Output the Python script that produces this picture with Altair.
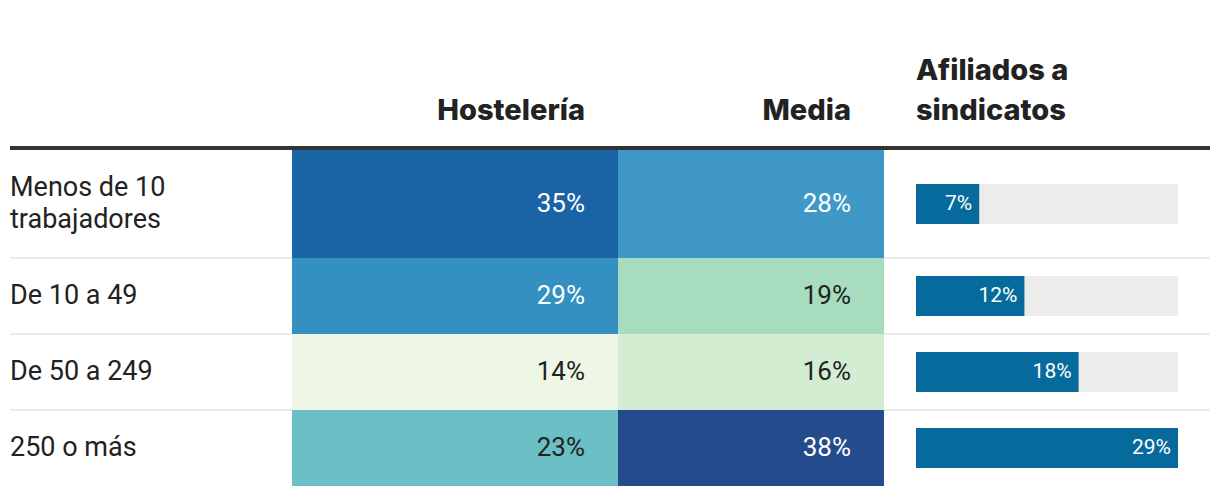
import altair as alt
import pandas as pd

# ---- data ----
categories = ["Menos de 10\ntrabajadores", "De 10 a 49", "De 50 a 249", "250 o más"]
hosteleria = [35, 29, 14, 23]
media = [28, 19, 16, 38]
afiliados = [7, 12, 18, 29]
col_titles = ["Hostelería", "Media", "Afiliados a\nsindicatos"]

# ---- layout / style ----
TOTAL_H = 478
TABLE_TOP = 142
ROW_BASE = 76
LINE_H = 32
W_LABEL, W_HOST, W_MEDIA, W_BAR = 284, 326, 266, 326
BAR_X0, BAR_X1 = 32, 294
BAR_H = 40
TEXT_FONT = "Roboto"
HEAD_FONT = "Inter"
DARK = "#222222"

rows = []
top = TABLE_TOP
for i, cat in enumerate(categories):
    n = cat.count("\n") + 1
    h = ROW_BASE + LINE_H * (n - 1)
    yc = top + h / 2
    rows.append(dict(cat=cat, order=i, y0=top, y1=top + h, yc=yc,
                     ty=yc - (n - 1) * LINE_H / 2,
                     host=hosteleria[i], media=media[i], afil=afiliados[i],
                     z=0, amax=max(afiliados)))
    top += h
df = pd.DataFrame(rows)
df["b0"] = df["yc"] - BAR_H / 2
df["b1"] = df["yc"] + BAR_H / 2
seps = pd.DataFrame({"y": df["y1"].iloc[:-1].tolist()})
one = pd.DataFrame({"k": [0]})

Y = alt.Scale(domain=[0, TOTAL_H], reverse=True, nice=False, zero=False)
heat_vals = sorted(set(hosteleria + media))  # 14,16,19,23,28,29,35,38
COLOR = alt.Scale(domain=heat_vals,
                  range=["#eef7e6", "#d3edd3", "#a8dcbf", "#6cbfc4",
                         "#3f98c5", "#3490c0", "#1a63a5", "#254b8c"])
XB = alt.Scale(domain=[0, max(afiliados)], range=[BAR_X0, BAR_X1], nice=False, zero=False)


def heavy_rule(x0, width):
    return alt.Chart(one).mark_rule(color="#333333", strokeWidth=4).encode(
        x=alt.value(x0), x2=alt.value(width), y=alt.value(TABLE_TOP - 2))


def sep_rules(x0, width):
    return alt.Chart(seps).mark_rule(color="#ebebeb", strokeWidth=2).encode(
        x=alt.value(x0), x2=alt.value(width), y=alt.Y("y:Q", scale=Y, axis=None))


# ---- label panel ----
labels = alt.Chart(df).mark_text(
    align="left", baseline="middle", font=TEXT_FONT, fontSize=27,
    lineBreak="\n", lineHeight=LINE_H, color=DARK
).encode(x=alt.value(2), y=alt.Y("ty:Q", scale=Y, axis=None), text="cat:N")
panel_labels = alt.layer(sep_rules(2, W_LABEL), heavy_rule(2, W_LABEL), labels).properties(
    width=W_LABEL, height=TOTAL_H)


def heat_panel(field, width, title):
    base = alt.Chart(df)
    rect = base.mark_rect().encode(
        x=alt.value(0), x2=alt.value(width),
        y=alt.Y("y0:Q", scale=Y, axis=None), y2="y1:Q",
        color=alt.Color(f"{field}:Q", scale=COLOR, legend=None))
    txt = base.transform_calculate(lab=f"datum.{field} + '%'").mark_text(
        align="right", baseline="middle", font=TEXT_FONT, fontSize=26
    ).encode(
        x=alt.value(width - 33), y=alt.Y("yc:Q", scale=Y, axis=None), text="lab:N",
        color=alt.condition(f"datum.{field} >= 25", alt.value("white"), alt.value(DARK)))
    head = alt.Chart(one).mark_text(
        align="right", baseline="alphabetic", font=HEAD_FONT, fontSize=29,
        fontWeight=800, color=DARK
    ).encode(x=alt.value(width - 33), y=alt.value(TABLE_TOP - 30), text=alt.value(title))
    return alt.layer(rect, heavy_rule(0, width), txt, head).properties(width=width, height=TOTAL_H)


panel_host = heat_panel("host", W_HOST, col_titles[0])
panel_media = heat_panel("media", W_MEDIA, col_titles[1])

# ---- bar panel ----
bbase = alt.Chart(df)
track = bbase.mark_rect(color="#ececec").encode(
    x=alt.X("z:Q", scale=XB, axis=None), x2="amax:Q",
    y=alt.Y("b0:Q", scale=Y, axis=None), y2="b1:Q")
bars = bbase.mark_rect(color="#066a9c").encode(
    x=alt.X("z:Q", scale=XB, axis=None), x2="afil:Q",
    y=alt.Y("b0:Q", scale=Y, axis=None), y2="b1:Q")
btxt = bbase.transform_calculate(lab="datum.afil + '%'").mark_text(
    align="right", baseline="middle", font=TEXT_FONT, fontSize=21, color="white", dx=-7
).encode(x=alt.X("afil:Q", scale=XB, axis=None), y=alt.Y("yc:Q", scale=Y, axis=None), text="lab:N")
bhead = alt.Chart(one).mark_text(
    align="left", baseline="alphabetic", font=HEAD_FONT, fontSize=29, fontWeight=800,
    color=DARK, lineBreak="\n", lineHeight=40
).encode(x=alt.value(BAR_X0), y=alt.value(TABLE_TOP - 70), text=alt.value(col_titles[2]))
panel_bar = alt.layer(sep_rules(0, W_BAR), heavy_rule(0, W_BAR), track, bars, btxt, bhead).properties(
    width=W_BAR, height=TOTAL_H)

chart = alt.hconcat(panel_labels, panel_host, panel_media, panel_bar, spacing=0).properties(
    padding=0, bounds="flush", background="white"
).configure_view(strokeWidth=0, stroke=None)

chart.save("out.html", embed_options={"renderer": "svg", "actions": False})
